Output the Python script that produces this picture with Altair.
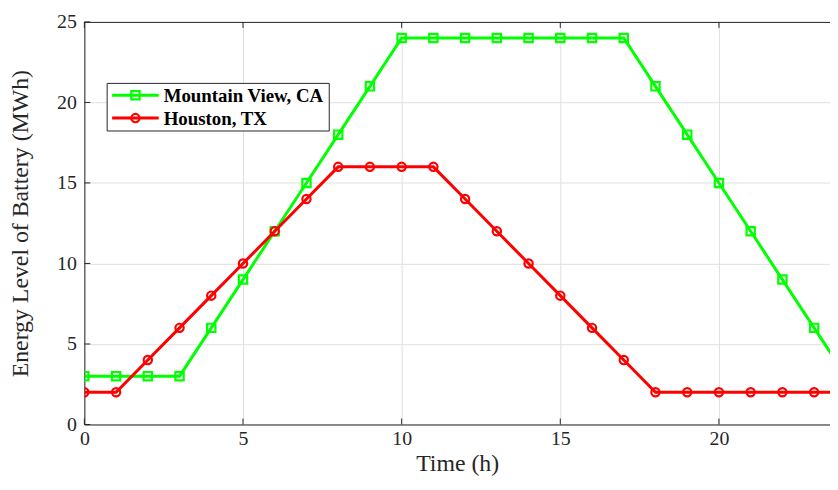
import altair as alt
import pandas as pd

hours = list(range(0, 25))
mountain_view = [3, 3, 3, 3, 6, 9, 12, 15, 18, 21, 24, 24, 24, 24, 24, 24, 24, 24,
                 21, 18, 15, 12, 9, 6, 3]
houston = [2, 2, 4, 6, 8, 10, 12, 14, 16, 16, 16, 16, 14, 12, 10, 8, 6, 4,
           2, 2, 2, 2, 2, 2, 2]
series_names = ["Mountain View, CA", "Houston, TX"]
series_colors = ["#00FF00", "#FF0000"]
series_shapes = ["square", "circle"]
x_ticks = [0, 5, 10, 15, 20]
y_ticks = [0, 5, 10, 15, 20, 25]

W, H = 752, 406
FONT = "Liberation Serif"
AX = "#262626"

df = pd.concat([
    pd.DataFrame({"t": hours, "e": mountain_view, "s": series_names[0]}),
    pd.DataFrame({"t": hours, "e": houston, "s": series_names[1]}),
])

xs = alt.Scale(domain=[0, 23.5], nice=False, zero=False)
ys = alt.Scale(domain=[0, 25], nice=False)

base_axes = alt.Chart(pd.DataFrame({"t": [0], "e": [0]})).mark_point(opacity=0).encode(
    x=alt.X("t:Q", scale=xs, title="Time (h)",
            axis=alt.Axis(values=x_ticks, grid=True, gridColor="#e0e0e0", tickSize=0,
                          labelPadding=4, labelFontSize=20, labelFont=FONT, labelColor=AX,
                          titleFont=FONT, titleFontSize=24, titleFontWeight="normal",
                          titleColor=AX, titlePadding=3, domainColor=AX, labelFlush=False)),
    y=alt.Y("e:Q", scale=ys, title="Energy Level of Battery (MWh)",
            axis=alt.Axis(values=y_ticks, grid=True, gridColor="#e0e0e0", tickSize=0,
                          labelPadding=8, labelFontSize=20, labelFont=FONT, labelColor=AX,
                          titleFont=FONT, titleFontSize=24, titleFontWeight="normal",
                          titleColor=AX, titlePadding=24, domainColor=AX)),
)

xt = pd.DataFrame({"t": x_ticks})
yt = pd.DataFrame({"e": y_ticks})
tick_bottom = alt.Chart(xt).mark_rule(color=AX, strokeWidth=1).encode(
    x=alt.X("t:Q", scale=xs), y=alt.value(H - 6), y2=alt.value(H))
tick_top = alt.Chart(xt).mark_rule(color=AX, strokeWidth=1).encode(
    x=alt.X("t:Q", scale=xs), y=alt.value(0), y2=alt.value(6))
tick_left = alt.Chart(yt).mark_rule(color=AX, strokeWidth=1).encode(
    y=alt.Y("e:Q", scale=ys), x=alt.value(0), x2=alt.value(6))
top_border = alt.Chart(pd.DataFrame({"a": [0]})).mark_rule(color=AX, strokeWidth=1).encode(
    x=alt.value(0), x2=alt.value(W), y=alt.value(0.5))

layers = [base_axes, tick_bottom, tick_top, tick_left, top_border]
for name, color, shape in zip(series_names, series_colors, series_shapes):
    sub = df[df["s"] == name]
    line = alt.Chart(sub).mark_line(color=color, strokeWidth=3, clip=True).encode(
        x=alt.X("t:Q", scale=xs), y=alt.Y("e:Q", scale=ys))
    pts = alt.Chart(sub).mark_point(shape=shape, filled=False, color=color,
                                    strokeWidth=2.2, size=70, clip=True, opacity=1).encode(
        x=alt.X("t:Q", scale=xs), y=alt.Y("e:Q", scale=ys))
    layers += [line, pts]

# custom legend (MATLAB style box)
leg_df = pd.DataFrame({"a": [0]})
layers.append(alt.Chart(leg_df).mark_rect(fill="white", stroke=AX, strokeWidth=1).encode(
    x=alt.value(23), x2=alt.value(247), y=alt.value(62), y2=alt.value(110)))
for i, (name, color, shape) in enumerate(zip(series_names, series_colors, series_shapes)):
    yp = 74 + i * 23
    ed = pd.DataFrame({"s": [name]})
    layers.append(alt.Chart(ed).mark_rule(color=color, strokeWidth=3).encode(
        x=alt.value(28), x2=alt.value(75), y=alt.value(yp)))
    layers.append(alt.Chart(ed).mark_point(shape=shape, filled=False, color=color,
                                           strokeWidth=2.2, size=70, opacity=1).encode(
        x=alt.value(51.5), y=alt.value(yp)))
    layers.append(alt.Chart(ed).mark_text(font=FONT, fontSize=19, fontWeight="bold",
                                          color="black", align="left", baseline="middle").encode(
        x=alt.value(80), y=alt.value(yp + 1), text="s:N"))

chart = alt.layer(*layers).properties(
    width=W, height=H,
    padding={"left": 77, "top": 12, "right": 0, "bottom": 60},
    autosize=alt.AutoSizeParams(type="none"),
    background="white",
).configure_view(stroke=None)

chart.save("out.html", embed_options={"renderer": "svg", "actions": False})
